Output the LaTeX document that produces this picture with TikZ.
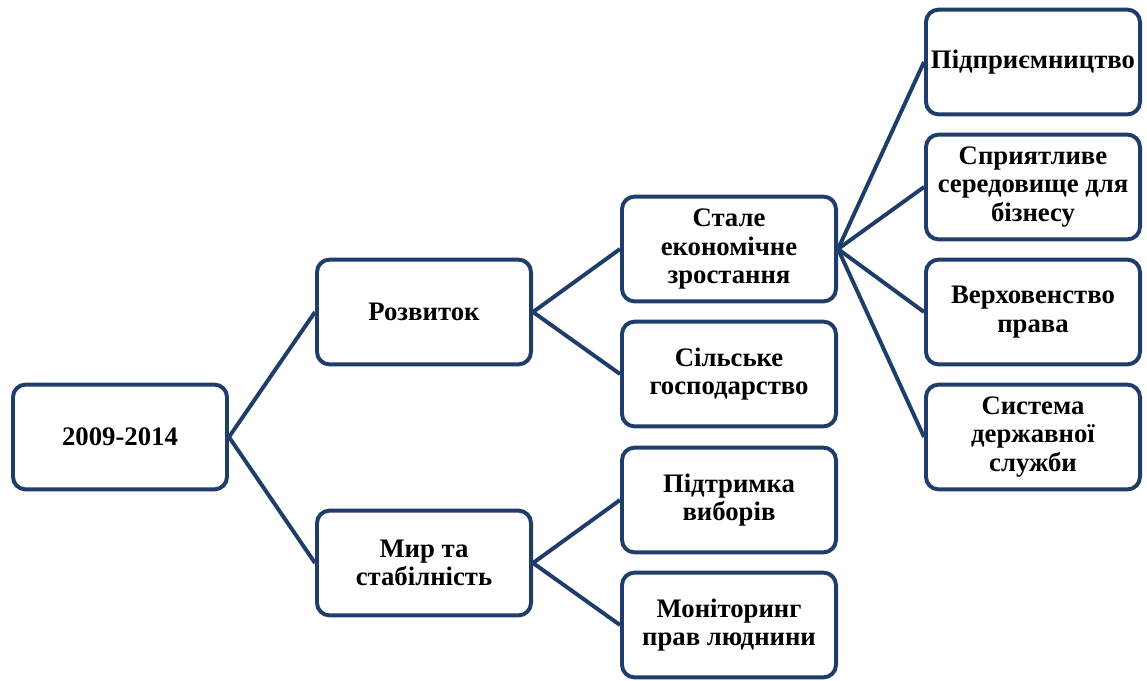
\documentclass[tikz,border=0pt]{standalone}
\usepackage{fontspec}
\setmainfont{Liberation Serif}
\definecolor{frame}{HTML}{1F3D6B}

\begin{document}
\begin{tikzpicture}[
x=0.025cm, y=-0.025cm,
    N/.style = {rectangle, draw=frame, line width=2.8pt,% boxes of the tree
                rounded corners=9pt, fill=white,
                minimum width=5.35cm, minimum height=2.62cm,
                align=center, inner sep=1pt,
                font=\fontsize{19}{20.2}\selectfont\bfseries},
    E/.style = {draw=frame, line width=2.8pt},% links parent -> child
                        ]
\useasboundingbox (0,0) rectangle (1147,680);
% level 0
\node[N] (root) at (120,437) {2009-2014};
% level 1
\node[N] (dev)   at (424,312) {Розвиток};
\node[N] (peace) at (424,563) {Мир та\\стабілність};
% level 2
\node[N] (growth) at (729,249) {Стале\\економічне\\зростання};
\node[N] (agro)   at (729,374) {Сільське\\господарство};
\node[N] (vote)   at (729,500) {Підтримка\\виборів};
\node[N] (human)  at (729,625) {Моніторинг\\прав люднини};
% level 3
\node[N] (biz)   at (1033,62)  {Підприємництво};
\node[N] (env)   at (1033,187) {Сприятливе\\середовище для\\бізнесу};
\node[N] (law)   at (1033,312) {Верховенство\\права};
\node[N] (civil) at (1033,437) {Система\\державної\\служби};
% links
\foreach \a/\b in {root/dev, root/peace, dev/growth, dev/agro,
                   peace/vote, peace/human, growth/biz, growth/env,
                   growth/law, growth/civil}
    \draw[E] (\a.east) -- (\b.west);
\end{tikzpicture}
\end{document}
